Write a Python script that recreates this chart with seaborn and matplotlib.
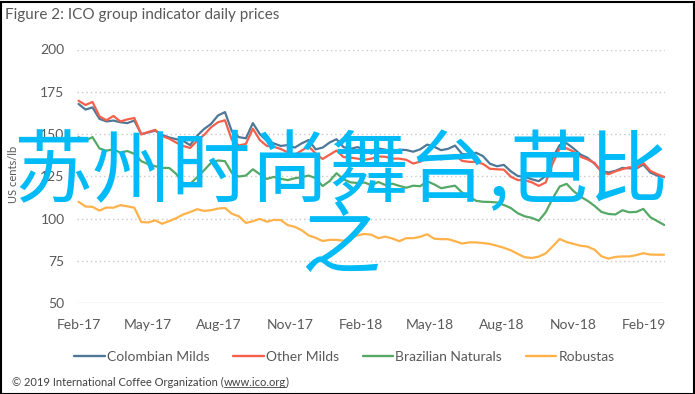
import matplotlib
matplotlib.use("Agg")
import matplotlib.pyplot as plt
import matplotlib.dates as mdates
from matplotlib.lines import Line2D
from matplotlib.patches import Rectangle
import numpy as np
import pandas as pd
import seaborn as sns

# ---------------- data (US cents/lb, sampled every 9 days from 1 Feb 2017) ----------------
series_names = ["Colombian Milds", "Other Milds", "Brazilian Naturals", "Robustas"]
colombian = [167.8, 164.5, 165.8, 159, 157.5, 158, 157, 156.5, 158, 150, 151, 152, 149.5, 148, 147, 146,
             143.5, 149, 153, 156, 161, 163, 151.5, 148.2, 147.5, 156.5, 150, 146, 144.5, 143, 143.5, 142,
             144.5, 146.5, 141, 142, 145, 147, 142.3, 141.3, 142.3, 141, 138.4, 141.5, 140.8, 139.6, 140.8,
             140.6, 139.6, 141, 143.8, 142.5, 140.5, 141.3, 143.2, 138.3, 137.8, 139, 137, 132.5, 131, 131.8,
             128, 125.2, 124.8, 123.3, 122.2, 125.3, 136, 143.5, 144.6, 141.5, 137.9, 136, 132.5, 128, 127.3,
             128.3, 130, 129.8, 129.6, 132, 127.3, 125.5, 124.5]
other_milds = [169.7, 167.2, 169, 160.5, 158.2, 160.7, 157.5, 158.7, 159.5, 149.8, 151.3, 152.5, 148.8, 147.3,
               145, 143, 141.8, 146, 149.5, 154, 157, 158.2, 146.5, 143.3, 144.2, 153.2, 146.5, 143, 142.5,
               141.2, 139.2, 137.8, 140.3, 142.8, 138.5, 135.3, 137.8, 140.3, 136.4, 136.1, 135.5, 134.8,
               135.5, 136.8, 136.6, 135.5, 135.5, 134.8, 132.6, 133.7, 136, 136.1, 135.1, 136, 137.5, 134.2,
               133.6, 133.5, 132.4, 129.5, 129.2, 129, 124.8, 122.8, 122.8, 121.5, 119.4, 121.4, 132.6, 141.5,
               141.6, 139.6, 136.6, 135, 133, 127.7, 126.3, 128, 129.3, 130.4, 129.8, 133, 128.3, 126.3, 124.7]
brazilian = [148.2, 146.2, 148.2, 141.5, 140.2, 141, 139, 140, 138.3, 134, 132.2, 131, 130, 130, 126.5, 121,
             120.5, 124.5, 128.6, 133, 134.4, 134, 127, 124.9, 125.5, 129.2, 126.3, 123.5, 124.7, 123.6, 122.8,
             123.9, 124.5, 125.5, 124, 119.3, 122.2, 126.9, 123.3, 121.5, 121.1, 121.4, 119.8, 121.7, 119.9,
             120.7, 119.4, 118.3, 119.5, 119.2, 122.1, 120.3, 118, 118.8, 119.5, 115.5, 113.2, 110.6, 110,
             109.9, 109.6, 108.1, 106.3, 103.2, 101.4, 100.5, 98.8, 103.8, 112, 119, 120.6, 116.3, 113, 110.6,
             107.6, 104, 102.8, 102.5, 105, 103.8, 104, 105.8, 100.9, 98.6, 96.3]
robustas = [110, 107.2, 107, 104.8, 106.6, 106.5, 108, 107.3, 106.5, 98, 97.8, 99, 97, 98.6, 100.3, 102.5,
            103.9, 105.6, 104.6, 105, 106, 106.3, 102.9, 101.4, 97.5, 98.5, 99.9, 98.2, 99.3, 99.2, 96.2, 95.2,
            93.2, 90.1, 88.7, 86.8, 87.5, 87.5, 87, 88.9, 90.1, 91, 90.5, 88.5, 89.4, 88.3, 86.7, 88.5, 88.5,
            89.3, 90.8, 88.2, 87.9, 87.9, 86.7, 85.3, 86, 86, 85.6, 85.1, 84, 82.8, 81.3, 79.2, 77.2, 76.8,
            77.6, 79.5, 83.6, 88, 86.2, 85.1, 84, 83.5, 81.7, 77.8, 76.4, 77.4, 77.7, 77.7, 78.5, 79.6, 78.8,
            78.7, 78.7]
dates = pd.date_range("2017-02-01", periods=len(colombian), freq="9D")
tick_dates = ["2017-02-01", "2017-05-01", "2017-08-01", "2017-11-01", "2018-02-01",
              "2018-05-01", "2018-08-01", "2018-11-01", "2019-02-01"]
y_ticks = [50, 75, 100, 125, 150, 175, 200]

title_text = "Figure 2: ICO group indicator daily prices"
y_label = "US cents/lb"
overlay_text = "苏州时尚舞台,芭比\n之"
credit_a = "\u00a9 2019 International Coffee Organization ("
credit_link = "www.ico.org"
credit_b = ")"

# ---------------- build long table ----------------
df = pd.DataFrame({"date": dates, "Colombian Milds": colombian, "Other Milds": other_milds,
                   "Brazilian Naturals": brazilian, "Robustas": robustas})
long = df.melt(id_vars="date", var_name="series", value_name="price")

palette = {"Colombian Milds": "#4F7897", "Other Milds": "#F5604B",
           "Brazilian Naturals": "#55A866", "Robustas": "#FFB24A"}

sns.set_theme(style="white")
plt.rcParams["font.family"] = ["Lato", "DejaVu Sans"]
grey = "#595959"

W, H = 695, 394
fig = plt.figure(figsize=(W / 100, H / 100), dpi=100)
fig.patch.set_facecolor("white")

x0, x1, ytop, ybot = 77, 665, 49.5, 303.3
ax = fig.add_axes([x0 / W, 1 - ybot / H, (x1 - x0) / W, (ybot - ytop) / H])

sns.lineplot(data=long, x="date", y="price", hue="series", hue_order=series_names,
             palette=palette, linewidth=1.6, ax=ax)

ax.set_ylim(50, 200)
ax.set_yticks(y_ticks)
ax.set_xlim(pd.Timestamp("2017-01-30"), pd.Timestamp("2019-02-28"))
ax.set_xticks(pd.to_datetime(tick_dates))
ax.xaxis.set_major_formatter(mdates.DateFormatter("%b-%y"))
ax.set_xlabel("")
ax.set_ylabel("")
for s in ax.spines.values():
    s.set_visible(False)
ax.tick_params(axis="both", length=0, labelsize=10, colors=grey, pad=9)
ax.tick_params(axis="x", pad=11)
for yv in y_ticks:
    if yv == 50:
        ax.axhline(yv, color="#D9D9D9", lw=1.0, zorder=0)
    else:
        ax.axhline(yv, color="#C8C8C8", lw=1.0, ls=(0, (1, 2.2)), zorder=0)

sns.move_legend(ax, "center", bbox_to_anchor=(344.5 / W, 1 - 357 / H), bbox_transform=fig.transFigure,
                ncol=4, frameon=False, title=None, fontsize=10, handlelength=2.2, handletextpad=0.15,
                columnspacing=1.7, labelcolor=grey)
for line in ax.get_legend().get_lines():
    line.set_linewidth(1.7)

# texts
fig.text(5 / W, 1 - 15 / H, title_text, fontsize=11, color=grey, va="center", ha="left")
fig.text(14 / W, 1 - 174 / H, y_label, fontsize=8, color=grey, rotation=90, va="center", ha="center")

fig.canvas.draw()
r = fig.canvas.get_renderer()
ty = 1 - 382 / H
fs_c = 8
t1 = fig.text(12 / W, ty, credit_a, fontsize=fs_c, color="#404040", va="center", ha="left")
bb = t1.get_window_extent(r)
t2 = fig.text(bb.x1 / W, ty, credit_link, fontsize=fs_c, color="#404040", va="center", ha="left")
bb2 = t2.get_window_extent(r)
fig.add_artist(Line2D([bb2.x0 / W, bb2.x1 / W], [(bb2.y0 + 1) / H, (bb2.y0 + 1) / H],
                      transform=fig.transFigure, color="#404040", lw=0.6))
fig.text(bb2.x1 / W, ty, credit_b, fontsize=fs_c, color="#404040", va="center", ha="left")

# overlay
fig.text(341 / W, 1 - 209 / H, overlay_text, fontsize=57, color="#00BBF7",
         family=["Noto Sans CJK SC", "DejaVu Sans"], ha="center", va="center", ma="center",
         linespacing=0.84, zorder=10)

# border
fig.add_artist(Rectangle((0.5 / W, 0.5 / H), 1 - 2 / W, 1 - 2.5 / H, transform=fig.transFigure,
                         fill=False, edgecolor="black", lw=1.5))

fig.savefig("out.png", dpi=100)
